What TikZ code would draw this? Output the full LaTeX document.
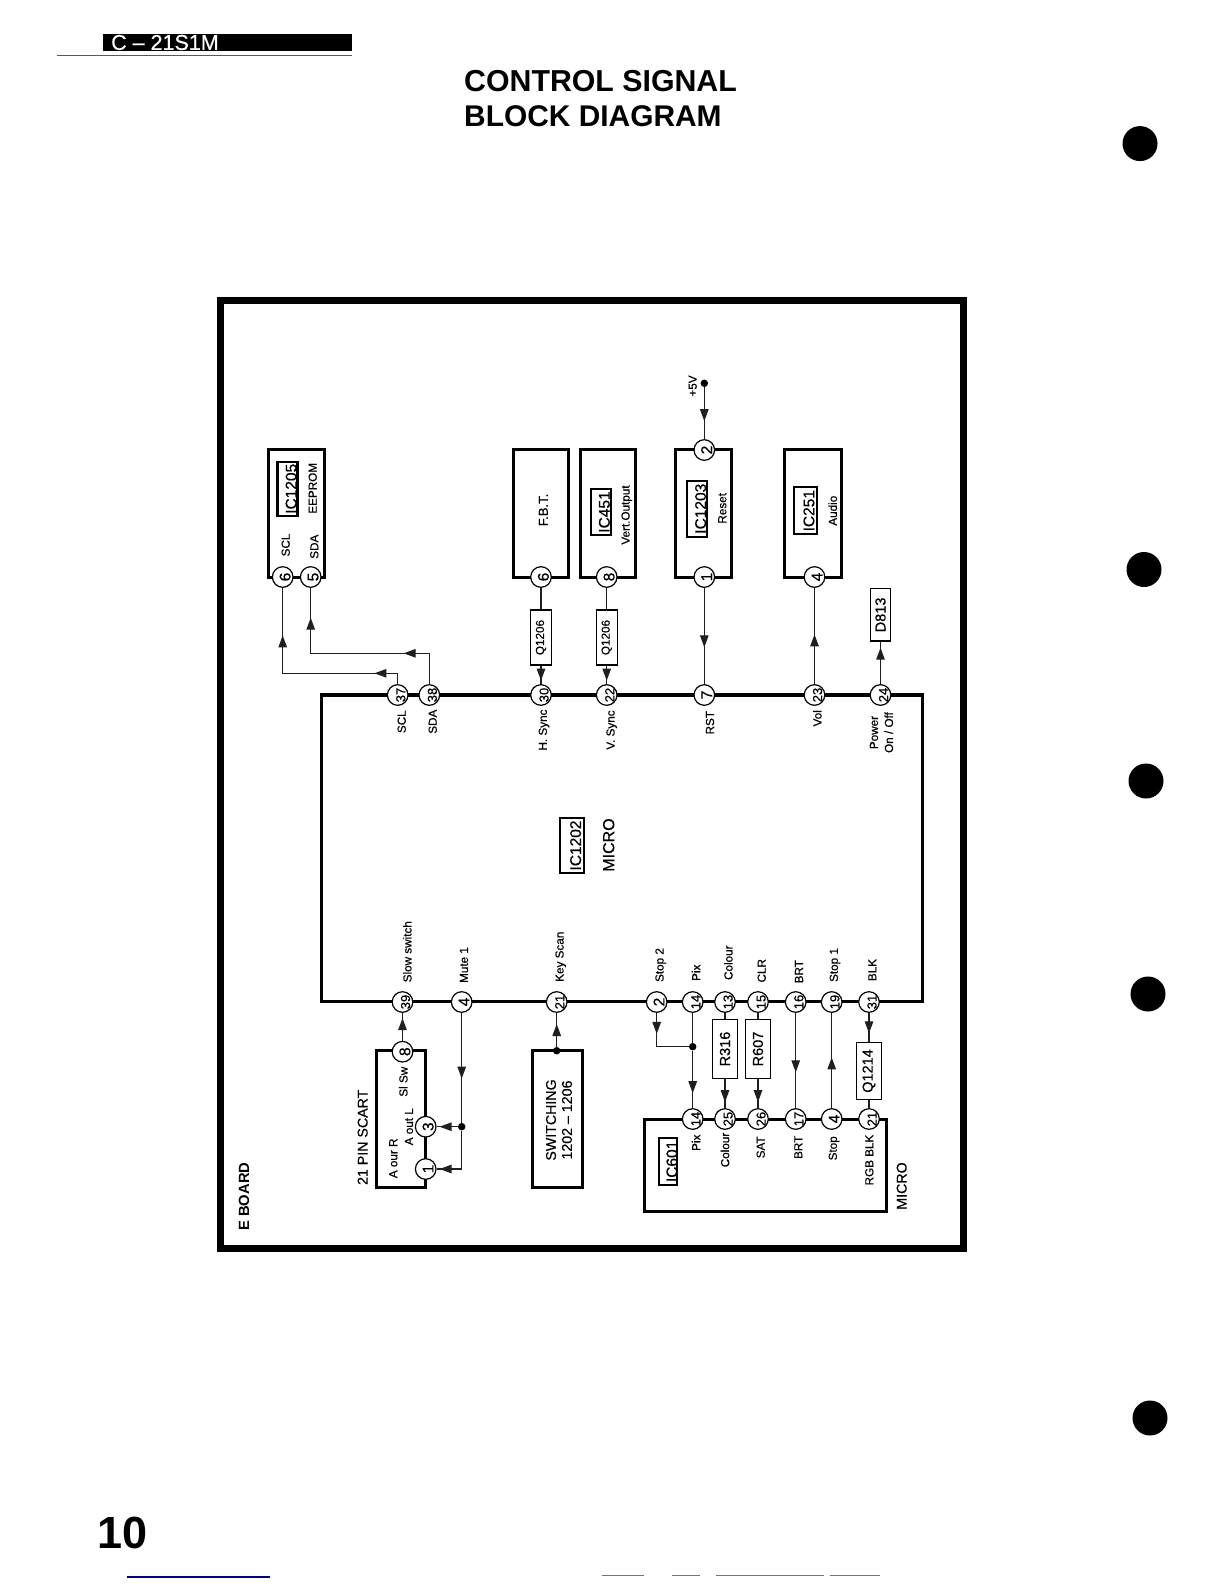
\documentclass[tikz,border=0pt]{standalone}
\usepackage{fontspec}
\setmainfont{Liberation Sans}
\newfontfamily\scanfont{Liberation Sans}[FakeBold=0.5]
\usetikzlibrary{arrows.meta,decorations.markings}
\newcommand{\lowtxt}[1]{\makebox[0pt]{\raisebox{-.58em}[0pt][0pt]{#1}}}
\newcommand{\lowdig}[1]{\makebox[0pt]{\raisebox{-.5em}[0pt][0pt]{#1}}}
\tikzset{
	wire/.style={line width=1.2pt, draw=black!88},
	tipat/.style={postaction={decorate,decoration={markings,mark=at position #1 with {\arrow{Stealth[length=12pt,width=8.5pt,inset=0pt]}}}}},
	block/.style={draw, line width=3pt, fill=white, inner sep=0pt, rotate=90},
	icbox/.style={draw, line width=2.2pt, fill=white, rotate=90, inner sep=0pt, minimum height=20pt, font=\scanfont\fontsize{15.5}{17}\selectfont},
	partbox/.style={draw, line width=1.2pt, fill=white, rotate=90, inner sep=0pt, minimum width=55pt, minimum height=21pt, font=\scanfont\fontsize{11.7}{14}\selectfont},
	bigpart/.style={partbox, font=\scanfont\fontsize{14.5}{17}\selectfont, minimum height=24.5pt},
	pinc/.style={circle, draw, line width=1.2pt, fill=white, inner sep=0pt, minimum size=20.6pt, rotate=90, font=\scanfont\fontsize{13}{15}\selectfont},
	pinb/.style={pinc, font=\scanfont\fontsize{15.5}{17}\selectfont},
	lab/.style={rotate=90, inner sep=0pt, align=center, font=\scanfont\fontsize{11.7}{15}\selectfont},
	biglab/.style={rotate=90, inner sep=0pt, align=center, font=\scanfont\fontsize{14.2}{16}\selectfont},
	dot/.style={circle, fill=black, inner sep=0pt, minimum size=7.5pt},
	hole/.style={circle, fill=black, inner sep=0pt, minimum size=35pt}
}
\begin{document}
\begin{tikzpicture}[x=1pt,y=-1pt]
	\useasboundingbox (0,0) rectangle (1224,1584);
	\node[fill=black, inner sep=0pt, minimum width=248.4pt, minimum height=17pt] (headbar) at (227.5,42.5) {};
	\node[anchor=west, inner sep=0pt, text=white, font=\scanfont\fontsize{21.5}{23}\selectfont] (headtext) at (111,42.5) {C – 21S1M};
	\coordinate (headl) at (56.7,55.7);
	\coordinate (headr) at (351.7,55.7);
	\draw[line width=0.9pt, black!65] (headl) -- (headr);
	\node[anchor=west, inner sep=0pt, font=\bfseries\fontsize{30.3}{36}\selectfont] (title1) at (464,81) {CONTROL SIGNAL};
	\node[anchor=west, inner sep=0pt, font=\bfseries\fontsize{29.9}{36}\selectfont] (title2) at (464,116.5) {BLOCK DIAGRAM};
	\node[inner sep=0pt, font=\bfseries\fontsize{45}{50}\selectfont] (pageno) at (123,1533) {10};
	\node[hole] (hole1) at (1140,143.6) {};
	\node[hole] (hole2) at (1144,569.5) {};
	\node[hole] (hole3) at (1146,781) {};
	\node[hole] (hole4) at (1148,994) {};
	\node[hole] (hole5) at (1150,1418) {};
	\draw[line width=1.2pt, blue!50!black] (126.5,1577) -- (270,1577);
	\draw[line width=1pt, black!55] (602,1575) -- (644,1575);
	\draw[line width=1pt, black!55] (672,1575) -- (700,1575);
	\draw[line width=1pt, black!55] (716,1575) -- (824,1575);
	\draw[line width=1pt, black!55] (830,1575) -- (880,1575);
	\node[draw, line width=7pt, inner sep=0pt, minimum width=743.4pt, minimum height=948.3pt] (eboard) at (592.2,774.6) {};
	\node[lab, font=\bfseries\fontsize{14.8}{16}\selectfont] (eboardl) at (244,1196.7) {E BOARD};
	\node[draw, line width=3.3pt, inner sep=0pt, minimum width=601pt, minimum height=306.7pt] (micro) at (622.2,848.3) {};
	\node[icbox, minimum width=55pt, minimum height=24pt, font=\scanfont\fontsize{15.5}{18}\selectfont] (ic1202) at (572,845.5) {\lowtxt{IC1202}};
	\node[lab, font=\scanfont\fontsize{16}{20}\selectfont] (microl) at (608.7,845) {MICRO};

	\node[block, minimum width=128pt, minimum height=56.7pt] (eeprom) at (296.6,513) {};
	\node[block, minimum width=128pt, minimum height=55.3pt] (fbt) at (540.7,513) {};
	\node[block, minimum width=128pt, minimum height=55pt] (vert) at (608.2,513) {};
	\node[block, minimum width=128pt, minimum height=55.3pt] (reset) at (703.4,513) {};
	\node[block, minimum width=128pt, minimum height=56.7pt] (audio) at (812.7,513) {};
	\node[block, minimum width=136.6pt, minimum height=49pt] (scart) at (400.5,1119) {};
	\node[block, minimum width=136.6pt, minimum height=50.4pt] (switching) at (557.5,1119) {};
	\node[draw, line width=3pt, fill=white, inner sep=0pt, minimum width=242.4pt, minimum height=92pt] (ic601) at (765.5,1165) {};

	\node[icbox, minimum width=54.3pt] (ic1205) at (287.5,488.8) {\lowtxt{IC1205}};
	\node[lab] (leeprom) at (312.7,488.3) {EEPROM};
	\node[lab] (lscla) at (285.7,545) {SCL};
	\node[lab] (lsdaa) at (314.3,546.7) {SDA};
	\node[lab, font=\scanfont\fontsize{13}{15}\selectfont] (lfbt) at (543.3,510) {F.B.T.};
	\node[icbox, minimum width=46pt] (ic451) at (600.7,512) {\lowtxt{IC451}};
	\node[lab] (lvert) at (626.7,515) {Vert.Output};
	\node[icbox, minimum width=56pt] (ic1203) at (697,508.7) {\lowtxt{IC1203}};
	\node[lab] (lreset) at (722.3,508.3) {Reset};
	\node[icbox, minimum width=46.7pt, minimum height=22.7pt] (ic251) at (805.3,510.7) {\lowtxt{IC251}};
	\node[lab] (laudio) at (832.7,510.7) {Audio};

	\node[partbox] (qh) at (541,637.5) {Q1206};
	\node[partbox] (qv) at (606.7,637.5) {Q1206};
	\node[bigpart, minimum width=52.3pt, minimum height=20pt] (d813) at (880.5,614.9) {D813};
	\node[bigpart, minimum width=58.3pt] (r316) at (725,1049) {R316};
	\node[bigpart, minimum width=58.3pt] (r607) at (758,1049) {R607};
	\node[bigpart, minimum width=57.7pt] (q1214) at (869,1071) {Q1214};

	\node[pinb] (e6) at (282.7,577) {\lowdig{6}};
	\node[pinb] (e5) at (310.7,577) {\lowdig{5}};
	\node[pinb] (f6) at (541,577) {\lowdig{6}};
	\node[pinb] (v8) at (606.7,577) {\lowdig{8}};
	\node[pinb] (r2) at (704.3,450) {\lowdig{2}};
	\node[pinb] (r1) at (704.3,577) {\lowdig{1}};
	\node[pinb] (a4) at (814.5,577) {\lowdig{4}};
	\node[pinc] (m37) at (397.7,695) {\lowtxt{37}};
	\node[pinc] (m38) at (429.3,695) {\lowtxt{38}};
	\node[pinc] (m30) at (541,695) {\lowtxt{30}};
	\node[pinc] (m22) at (606.7,695) {\lowtxt{22}};
	\node[pinb] (m7) at (704.3,695) {\lowdig{7}};
	\node[pinc] (m23) at (814.5,695) {\lowtxt{23}};
	\node[pinc] (m24) at (880.5,695) {\lowtxt{24}};
	\node[pinc] (m39) at (402.5,1002) {\lowtxt{39}};
	\node[pinb] (m4) at (461.7,1002) {\lowdig{4}};
	\node[pinc] (m21) at (556.7,1002) {\lowtxt{21}};
	\node[pinb] (m2) at (656.7,1002) {\lowdig{2}};
	\node[pinc] (m14) at (692.7,1002) {\lowtxt{14}};
	\node[pinc] (m13) at (725,1002) {\lowtxt{13}};
	\node[pinc] (m15) at (758,1002) {\lowtxt{15}};
	\node[pinc] (m16) at (795.7,1002) {\lowtxt{16}};
	\node[pinc] (m19) at (831.7,1002) {\lowtxt{19}};
	\node[pinc] (m31) at (869,1002) {\lowtxt{31}};
	\node[pinb] (s8) at (402.5,1051.7) {\lowdig{8}};
	\node[pinb] (s3) at (425.7,1126.7) {\lowdig{3}};
	\node[pinb] (s1) at (425.7,1169) {\lowdig{1}};
	\node[pinc] (c14) at (692.7,1119) {\lowtxt{14}};
	\node[pinc] (c25) at (725,1119) {\lowtxt{25}};
	\node[pinc] (c26) at (758,1119) {\lowtxt{26}};
	\node[pinc] (c17) at (795.7,1119) {\lowtxt{17}};
	\node[pinb] (c4) at (831.7,1119) {\lowdig{4}};
	\node[pinc] (c21) at (869,1119) {\lowtxt{21}};

	\node[dot] (vcc) at (704.3,383.3) {};
	\node[dot] (mutej) at (461.7,1126.7) {};
	\node[dot] (swj) at (556.7,1050.7) {};
	\node[dot] (stopj) at (692.7,1046.7) {};
	\coordinate (sclc) at (282.7,673.3);
	\coordinate (sdac) at (310.7,653.3);

	\draw[wire, tipat=34.1pt, tipat=163.7pt] (m37) |- (sclc) -- (e6);
	\draw[wire, tipat=56.4pt, tipat=185pt] (m38) |- (sdac) -- (e5);
	\draw[wire] (f6) -- (qh);
	\draw[wire, tipat=15pt] (qh) -- (m30);
	\draw[wire] (v8) -- (qv);
	\draw[wire, tipat=15pt] (qv) -- (m22);
	\draw[wire, tipat=33.9pt] (vcc) -- (r2);
	\draw[wire, tipat=59.4pt] (r1) -- (m7);
	\draw[wire, tipat=49.7pt] (m23) -- (a4);
	\draw[wire, tipat=36.4pt] (m24) -- (d813);
	\draw[wire, tipat=22.7pt] (s8) -- (m39);
	\draw[wire, tipat=65.7pt] (m4) -- (mutej);
	\draw[wire, tipat=18.2pt] (mutej) -- (s3);
	\draw[wire, tipat=60.5pt] (mutej) |- (s1);
	\draw[wire, tipat=22.7pt] (swj) -- (m21);
	\draw[wire, tipat=21pt] (m2) |- (stopj);
	\draw[wire] (m14) -- (stopj);
	\draw[wire, tipat=42.5pt] (stopj) -- (c14);
	\draw[wire] (m13) -- (r316);
	\draw[wire, tipat=23.4pt] (r316) -- (c25);
	\draw[wire] (m15) -- (r607);
	\draw[wire, tipat=23.4pt] (r607) -- (c26);
	\draw[wire, tipat=59.4pt] (m16) -- (c17);
	\draw[wire, tipat=50.7pt] (c4) -- (m19);
	\draw[wire, tipat=20.4pt] (m31) -- (q1214);
	\draw[wire] (q1214) -- (c21);

	\node[lab] (lvcc) at (692.7,386) {+5V};
	\node[lab] (lscl) at (401.7,721.7) {SCL};
	\node[lab] (lsda) at (432.7,721.7) {SDA};
	\node[lab] (lhs) at (544,730) {H. Sync};
	\node[lab] (lvs) at (611.7,730) {V. Sync};
	\node[lab] (lrst) at (710,722.7) {RST};
	\node[lab] (lvol) at (817.3,718.3) {Vol};
	\node[lab] (lpow) at (881.5,732.5) {Power\\On / Off};
	\node[lab] (lslow) at (407.3,951.7) {Slow switch};
	\node[lab] (lmute) at (464,965) {Mute 1};
	\node[lab] (lkey) at (560.7,956.7) {Key Scan};
	\node[lab] (lstop2) at (660.7,965) {Stop 2};
	\node[lab] (lpix) at (696,972.7) {Pix};
	\node[lab] (lcol) at (728.3,962.7) {Colour};
	\node[lab] (lclr) at (761.7,970.7) {CLR};
	\node[lab] (lbrt) at (799,971.7) {BRT};
	\node[lab] (lstop1) at (835,965) {Stop 1};
	\node[lab] (lblk) at (872.3,970) {BLK};
	\node[biglab] (lscart) at (362.7,1137.3) {21 PIN SCART};
	\node[lab] (lslsw) at (403.3,1081.7) {Sl Sw};
	\node[lab] (laoutl) at (409,1126.7) {A out L};
	\node[lab] (laoutr) at (393.3,1158.3) {A our R};
	\node[biglab] (lsw) at (559,1120) {SWITCHING\\1202 – 1206};
	\node[icbox, minimum width=47.3pt, minimum height=18pt] (ic601l) at (668.3,1161.4) {\lowtxt{IC601}};
	\node[lab] (cpix) at (696,1142.7) {Pix};
	\node[lab] (ccol) at (725,1150) {Colour};
	\node[lab] (csat) at (760.7,1147.3) {SAT};
	\node[lab] (cbrt) at (798.3,1147.3) {BRT};
	\node[lab] (cstop) at (834,1148.3) {Stop};
	\node[lab] (crgb) at (869.3,1160) {RGB BLK};
	\node[biglab] (cmicro) at (901.7,1186) {MICRO};
\end{tikzpicture}
\end{document}
